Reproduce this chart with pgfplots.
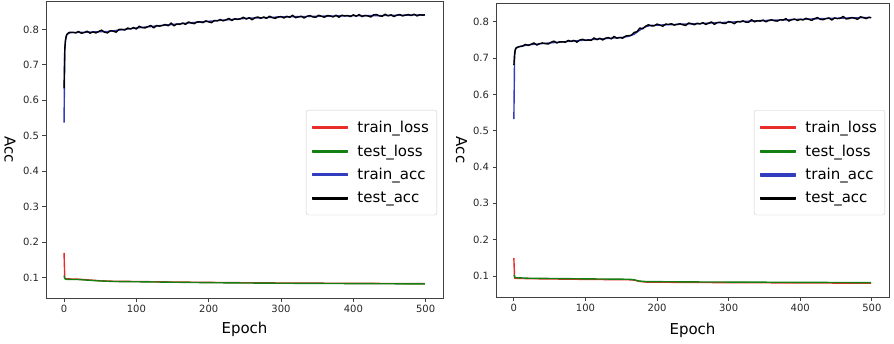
\documentclass[border=0pt]{standalone}
\usepackage{fontspec}
\setmainfont{DejaVu Sans}
\usepackage{pgfplots}
\pgfplotsset{compat=1.18}
\definecolor{mred}{RGB}{232,45,40}
\definecolor{mgreen}{RGB}{20,128,20}
\definecolor{mblue}{RGB}{50,60,190}
\pgfplotsset{
  panel/.style={
    scale only axis,
    xmin=-24.95, xmax=523.95,
    xtick={0,100,200,300,400,500},
    ytick={0.1,0.2,0.3,0.4,0.5,0.6,0.7,0.8},
    xtick pos=bottom, ytick pos=left,
    tick align=outside, major tick length=3.5pt,
    tick style={black!75, line width=0.8pt},
    axis line style={black!75, line width=0.9pt},
    /pgf/number format/assume math mode=true,
    ticklabel style={font=\fontsize{10}{12}\selectfont, text=black!85},
    yticklabel style={/pgf/number format/fixed, /pgf/number format/fixed zerofill, /pgf/number format/precision=1},
    label style={font=\fontsize{15}{18}\selectfont},
    xlabel={Epoch}, ylabel={Acc},
    legend cell align=left,
    legend style={draw=black!20, fill=white, rounded corners=2.5pt,
      font=\fontsize{15}{18}\selectfont, inner xsep=6pt, inner ysep=8.7pt,
      row sep=6.9pt,
      /tikz/every odd column/.append style={column sep=7pt}},
    legend image code/.code={\fill[##1, sharp corners] (0pt,-0.85pt) rectangle (35pt,0.85pt);},
    every axis plot/.append style={line width=1.4pt, line join=round},
  }
}
\begin{document}
\begin{tikzpicture}
\path[use as bounding box] (0,0) rectangle (894pt,343pt);
% ---------------- left panel ----------------
\begin{axis}[panel, name=L,
  at={(46pt,45pt)}, anchor=south west, width=397pt, height=297pt,
  ymin=0.043, ymax=0.880,
  xlabel style={at={(axis description cs:0.5,-0.1212)}, anchor=base},
  ylabel style={at={(axis description cs:-0.0907,0.5)}, anchor=center, rotate=180},
  legend style={at={(axis description cs:0.985,0.633)}, anchor=north east},
]
\addplot[mred] coordinates {(0,0.170) (1,0.098) (3,0.097) (20,0.0960) (50,0.0915) (70,0.0900) (100,0.0895) (150,0.0880) (200,0.0870) (250,0.0860) (300,0.0853) (400,0.0843) (499,0.0835)};
\addlegendentry{train\_loss}
\addplot[mgreen] coordinates {(0,0.106) (1,0.098) (3,0.0955) (20,0.0950) (50,0.0910) (70,0.0895) (100,0.0888) (150,0.0875) (200,0.0862) (250,0.0853) (300,0.0846) (400,0.0836) (499,0.0826)};
\addlegendentry{test\_loss}
\addplot[mblue] coordinates {(0,0.537) (1,0.740) (2,0.768) (3,0.779) (4,0.785) (6,0.789) (10,0.791) (30,0.792) (60,0.794) (100,0.804) (140,0.812) (183,0.820) (220,0.826) (251,0.831) (300,0.835) (381,0.838) (440,0.839) (499,0.841)};
\addlegendentry{train\_acc}
\addplot[black] coordinates {(0,0.634) (1,0.745) (2,0.770) (3,0.781) (4,0.786) (6,0.790) (8,0.792)
(12,0.792) (16,0.790) (20,0.794) (24,0.789) (28,0.791) (32,0.795) (36,0.789) (40,0.793) (44,0.790) (48,0.794)
(52,0.798) (56,0.792) (60,0.790) (64,0.796) (68,0.795) (72,0.792) (76,0.800) (80,0.800) (84,0.798) (88,0.804)
(92,0.801) (96,0.805) (100,0.801) (104,0.809) (108,0.805) (112,0.804) (116,0.808) (120,0.811) (124,0.804) (128,0.811)
(132,0.809) (136,0.811) (140,0.814) (144,0.810) (148,0.818) (152,0.810) (156,0.815) (160,0.814) (164,0.818) (168,0.814)
(172,0.821) (176,0.818) (180,0.816) (184,0.821) (188,0.821) (192,0.819) (196,0.824) (200,0.821) (204,0.819) (208,0.825)
(212,0.824) (216,0.828) (220,0.824) (224,0.827) (228,0.831) (232,0.825) (236,0.830) (240,0.828) (244,0.830) (248,0.834)
(252,0.829) (256,0.833) (260,0.827) (264,0.833) (268,0.835) (272,0.831) (276,0.835) (280,0.831) (284,0.837) (288,0.833)
(292,0.831) (296,0.835) (300,0.836) (304,0.832) (308,0.837) (312,0.834) (316,0.840) (320,0.833) (324,0.835) (328,0.837)
(332,0.832) (336,0.837) (340,0.839) (344,0.835) (348,0.834) (352,0.840) (356,0.837) (360,0.834) (364,0.839) (368,0.838)
(372,0.835) (376,0.840) (380,0.834) (384,0.840) (388,0.838) (392,0.839) (396,0.836) (400,0.841) (404,0.837) (408,0.842)
(412,0.836) (416,0.839) (420,0.838) (424,0.835) (428,0.841) (432,0.842) (436,0.838) (440,0.837) (444,0.843) (448,0.838)
(452,0.841) (456,0.836) (460,0.840) (464,0.842) (468,0.838) (472,0.840) (476,0.842) (480,0.839) (484,0.843) (488,0.838)
(492,0.841) (496,0.840) (499,0.841)};
\addlegendentry{test\_acc}
\end{axis}
% ---------------- right panel ----------------
\begin{axis}[panel, name=R,
  at={(496pt,46pt)}, anchor=south west, width=393pt, height=294pt,
  ymin=0.042, ymax=0.852,
  xlabel style={at={(axis description cs:0.5,-0.126)}, anchor=base},
  ylabel style={at={(axis description cs:-0.0878,0.5)}, anchor=center, rotate=180},
  legend style={at={(axis description cs:0.990,0.636)}, anchor=north east},
]
\addplot[mred] coordinates {(0,0.149) (1,0.094) (3,0.0935) (21,0.0925) (100,0.0905) (160,0.0895) (168,0.0885) (175,0.0850) (185,0.0830) (254,0.0820) (350,0.0812) (499,0.0800)};
\addlegendentry{train\_loss}
\addplot[mgreen] coordinates {(0,0.103) (2,0.0953) (21,0.0937) (100,0.0920) (161,0.0909) (168,0.0895) (175,0.0860) (185,0.0845) (254,0.0835) (350,0.0828) (499,0.0816)};
\addlegendentry{test\_loss}
\addplot[mblue] coordinates {(0,0.532) (1,0.705) (2,0.722) (3,0.727) (5,0.730) (10,0.733) (21,0.737) (68,0.745) (114,0.752) (150,0.757) (160,0.760) (168,0.766) (175,0.776) (182,0.785) (190,0.790) (200,0.791) (254,0.795) (300,0.799) (339,0.803) (400,0.807) (431,0.809) (470,0.811) (499,0.812)};
\addlegendentry{train\_acc}
\addplot[black] coordinates {(0,0.681) (1,0.712) (2,0.724) (3,0.728) (5,0.730) (8,0.732)
(12,0.733) (16,0.738) (20,0.735) (24,0.738) (28,0.742) (32,0.736) (36,0.740) (40,0.742) (44,0.740) (48,0.739)
(52,0.744) (56,0.747) (60,0.742) (64,0.745) (68,0.745) (72,0.744) (76,0.749) (80,0.746) (84,0.749) (88,0.744)
(92,0.750) (96,0.752) (100,0.749) (104,0.750) (108,0.749) (112,0.756) (116,0.751) (120,0.755) (124,0.750) (128,0.755)
(132,0.757) (136,0.753) (140,0.760) (144,0.755) (148,0.757) (152,0.755) (156,0.761) (160,0.762) (164,0.763) (168,0.771)
(172,0.773) (176,0.783) (180,0.781) (184,0.788) (188,0.792) (192,0.789) (196,0.789) (200,0.794) (204,0.791) (208,0.788)
(212,0.794) (216,0.793) (220,0.795) (224,0.791) (228,0.793) (232,0.795) (236,0.792) (240,0.790) (244,0.797) (248,0.795)
(252,0.792) (256,0.796) (260,0.794) (264,0.798) (268,0.793) (272,0.796) (276,0.800) (280,0.793) (284,0.798) (288,0.799)
(292,0.796) (296,0.796) (300,0.801) (304,0.799) (308,0.795) (312,0.801) (316,0.800) (320,0.803) (324,0.799) (328,0.799)
(332,0.806) (336,0.800) (340,0.803) (344,0.802) (348,0.805) (352,0.800) (356,0.804) (360,0.806) (364,0.803) (368,0.802)
(372,0.806) (376,0.805) (380,0.809) (384,0.802) (388,0.806) (392,0.808) (396,0.804) (400,0.807) (404,0.805) (408,0.810)
(412,0.807) (416,0.804) (420,0.809) (424,0.812) (428,0.807) (432,0.806) (436,0.809) (440,0.811) (444,0.805) (448,0.811)
(452,0.809) (456,0.810) (460,0.815) (464,0.808) (468,0.809) (472,0.812) (476,0.810) (480,0.807) (484,0.814) (488,0.812)
(492,0.809) (496,0.813) (499,0.811)};
\addlegendentry{test\_acc}
\end{axis}
\end{tikzpicture}
\end{document}
